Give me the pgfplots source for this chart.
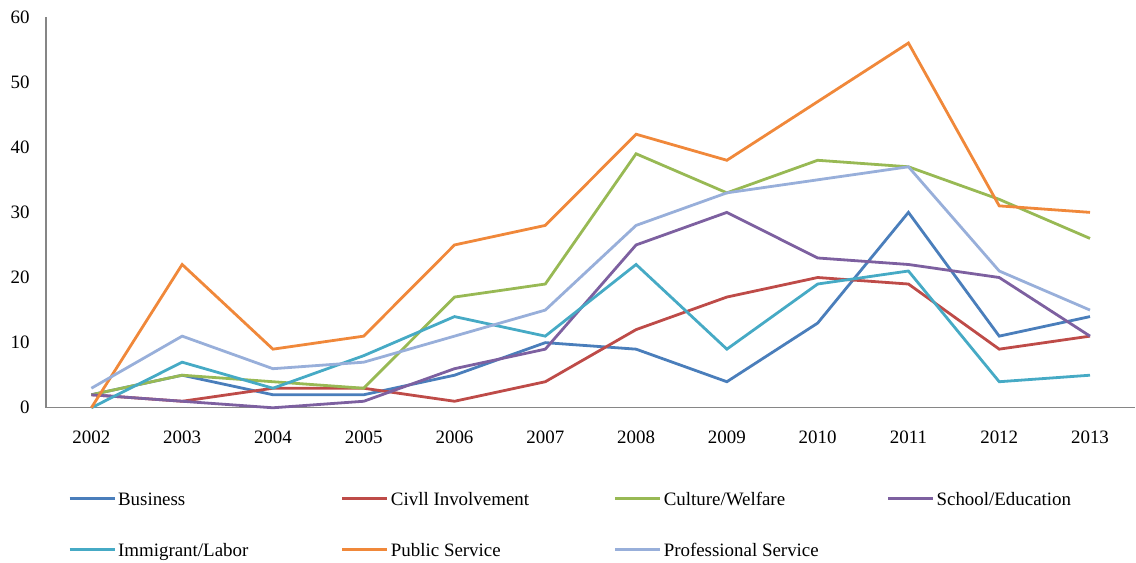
\documentclass[border=0pt]{standalone}
\usepackage{pgfplots}
\pgfplotsset{compat=1.18}
\usepackage{fontspec}
\setmainfont{Liberation Serif}

\definecolor{cBusiness}{HTML}{4A7EBB}
\definecolor{cCivil}{HTML}{BE4B48}
\definecolor{cCulture}{HTML}{98B954}
\definecolor{cSchool}{HTML}{7D60A0}
\definecolor{cImmigrant}{HTML}{46AAC5}
\definecolor{cPublic}{HTML}{F0883A}
\definecolor{cProf}{HTML}{98AFDA}
\definecolor{axisgray}{HTML}{868686}

\newcommand{\lab}[1]{\makebox[221bp][l]{\strut #1}}
\newcommand{\lastlab}[1]{\makebox[150bp][l]{\strut #1}}

\begin{document}
\begin{tikzpicture}
\begin{axis}[
  scale only axis,
  width=1090bp, height=391bp,
  xmin=-0.5, xmax=11.5,
  ymin=0, ymax=60,
  xtick={0,...,11},
  xticklabels={2002,2003,2004,2005,2006,2007,2008,2009,2010,2011,2012,2013},
  ytick={0,10,...,60},
  major tick length=0pt,
  axis x line*=bottom,
  axis y line*=left,
  axis line style={draw=axisgray, line width=1.2bp, -},
  tick label style={font=\fontsize{19}{22}\selectfont},
  /pgf/number format/assume math mode=true,
  xticklabel style={yshift=-20bp},
  yticklabel style={xshift=-13bp},
  clip=false,
  every axis plot/.append style={line width=2.8bp, line join=miter, mark=none},
  legend columns=4,
  legend style={
    draw=none, fill=none,
    at={(rel axis cs:0.0174,-0.20)}, anchor=north west,
    font=\fontsize{19}{22}\selectfont,
    row sep=30bp,
    /tikz/every even column/.append style={column sep=0bp},
  },
  legend cell align=left,
  legend image code/.code={\draw[#1, line width=3bp] (0bp,0bp) -- (45bp,0bp);},
]
\addplot[cBusiness] coordinates {(0,2)(1,5)(2,2)(3,2)(4,5)(5,10)(6,9)(7,4)(8,13)(9,30)(10,11)(11,14)};
\addlegendentry{\lab{Business}}
\addplot[cCivil] coordinates {(0,2)(1,1)(2,3)(3,3)(4,1)(5,4)(6,12)(7,17)(8,20)(9,19)(10,9)(11,11)};
\addlegendentry{\lab{Civll Involvement}}
\addplot[cCulture] coordinates {(0,2)(1,5)(2,4)(3,3)(4,17)(5,19)(6,39)(7,33)(8,38)(9,37)(10,32)(11,26)};
\addlegendentry{\lab{Culture/Welfare}}
\addplot[cSchool] coordinates {(0,2)(1,1)(2,0)(3,1)(4,6)(5,9)(6,25)(7,30)(8,23)(9,22)(10,20)(11,11)};
\addlegendentry{\lastlab{School/Education}}
\addplot[cImmigrant] coordinates {(0,0)(1,7)(2,3)(3,8)(4,14)(5,11)(6,22)(7,9)(8,19)(9,21)(10,4)(11,5)};
\addlegendentry{\lab{Immigrant/Labor}}
\addplot[cPublic] coordinates {(0,0)(1,22)(2,9)(3,11)(4,25)(5,28)(6,42)(7,38)(8,47)(9,56)(10,31)(11,30)};
\addlegendentry{\lab{Public Service}}
\addplot[cProf] coordinates {(0,3)(1,11)(2,6)(3,7)(4,11)(5,15)(6,28)(7,33)(8,35)(9,37)(10,21)(11,15)};
\addlegendentry{\lab{Professional Service}}
\coordinate (bl) at (rel axis cs:0,0);
\coordinate (tr) at (rel axis cs:1,1);
\end{axis}
\path (bl) ++(-46bp,-155bp);
\path (tr) ++(0bp,17bp);
\end{tikzpicture}
\end{document}
